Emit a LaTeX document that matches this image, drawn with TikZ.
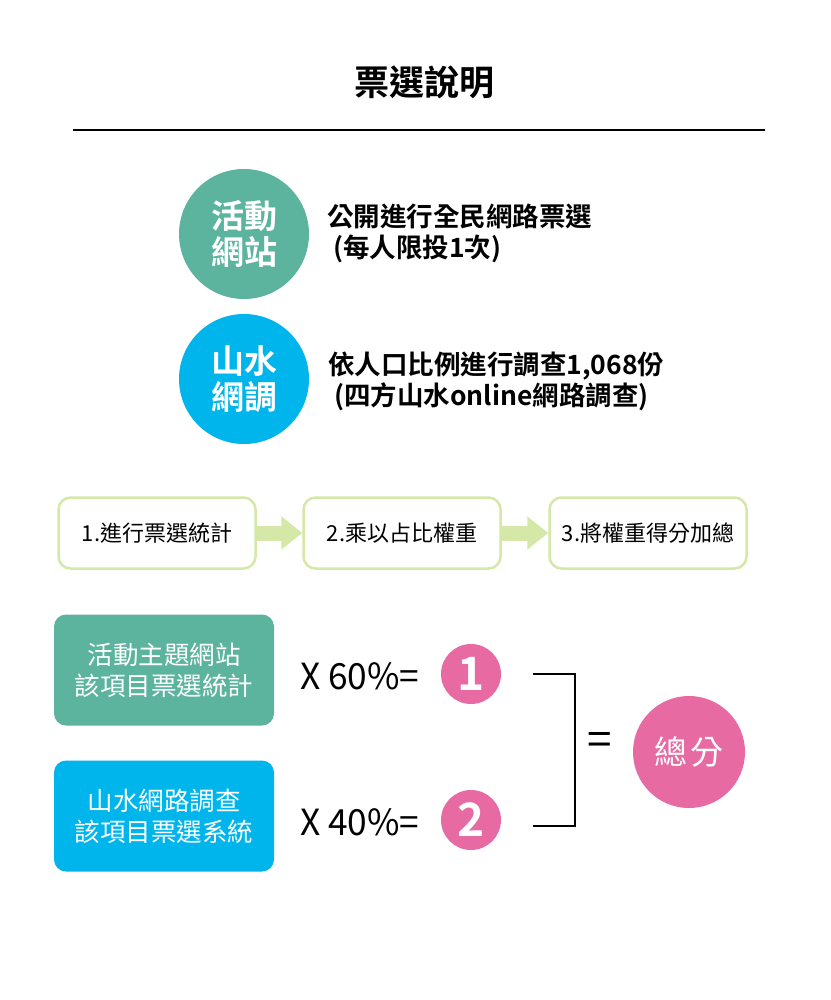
\documentclass[tikz,border=0pt]{standalone}
\usepackage{fontspec}
\setmainfont{Noto Sans CJK TC}
\newfontfamily\cjkb{Noto Sans CJK TC Bold}
\usetikzlibrary{arrows.meta}
\definecolor{teal1}{HTML}{5CB39E}
\definecolor{cyan1}{HTML}{00B5EC}
\definecolor{pink1}{HTML}{E86AA3}
\definecolor{lgreen}{HTML}{D5E8A8}
\tikzset{
  bigcirc/.style={circle,minimum size=130pt,inner sep=0pt,text=white,font=\cjkb\fontsize{33}{36}\selectfont,align=center},
  desc/.style={anchor=west,font=\cjkb\fontsize{26.5}{31}\selectfont,align=left,inner sep=0pt},
  stepbox/.style={draw=lgreen,line width=2.5pt,rounded corners=12pt,minimum width=197pt,minimum height=71pt,font=\fontsize{22}{24}\selectfont},
  stepar/.style={draw=lgreen,line width=15pt,-{Triangle[length=21pt,width=32pt]}},
  srcbox/.style={rounded corners=12pt,minimum width=220pt,minimum height=111pt,text=white,align=center,font=\fontsize{25.5}{31}\selectfont},
  mult/.style={font=\fontsize{36}{40}\selectfont,anchor=west,inner sep=0pt},
  numc/.style={circle,fill=pink1,minimum size=60pt,inner sep=0pt,text=white,font=\cjkb\fontsize{46}{46}\selectfont},
  brk/.style={line width=2.3pt}
}
\begin{document}
\begin{tikzpicture}[x=1pt,y=-1pt]
\useasboundingbox (0,0) rectangle (830,1000);
\fill[white] (0,0) rectangle (830,1000);
% title
\node[font=\cjkb\fontsize{35}{38}\selectfont] (title) at (424,82) {票選說明};
\coordinate (l1) at (73,130);
\coordinate (l2) at (765,130);
\draw[line width=1.8pt] (l1) -- (l2);
% circles
\node[bigcirc,fill=teal1] (c1) at (244,234) {活動\\網站};
\node[bigcirc,fill=cyan1] (c2) at (244,379) {山水\\網調};
\node[desc] (d1) at (327,233) {公開進行全民網路票選\\\hspace{6pt}(每人限投1次)};
\node[desc] (d2) at (328,381) {依人口比例進行調查1,068份\\\hspace{6pt}(四方山水online網路調查)};
% steps
\node[stepbox] (s1) at (157,533) {1.進行票選統計};
\node[stepbox] (s2) at (402,533) {2.乘以占比權重};
\node[stepbox] (s3) at (648,533) {3.將權重得分加總};
\draw[stepar] (s1.east) -- (s2.west);
\draw[stepar] (s2.east) -- (s3.west);
% sources
\node[srcbox,fill=teal1] (b1) at (164,670) {活動主題網站\\該項目票選統計};
\node[srcbox,fill=cyan1] (b2) at (164,816) {山水網路調查\\該項目票選系統};
\node[mult,xscale=0.98] (m1) at (300,676) {X 60\%=};
\node[mult,xscale=0.98] (m2) at (300,822) {X 40\%=};
\node[numc] (n1) at (471,674) {1};
\node[numc] (n2) at (471,820) {2};
\coordinate (k1) at (533,674);
\coordinate (k2) at (575,674);
\coordinate (k3) at (575,826);
\coordinate (k4) at (533,826);
\draw[brk] (k1) -- (k2) -- (k3) -- (k4);
\node[font=\fontsize{44}{44}\selectfont] (eq) at (600,744) {=};
\node[circle,fill=pink1,minimum size=112pt,inner sep=0pt,text=white,font=\fontsize{33}{34}\selectfont] (tot) at (689,752) {總\hspace{3pt}分};
\end{tikzpicture}
\end{document}
